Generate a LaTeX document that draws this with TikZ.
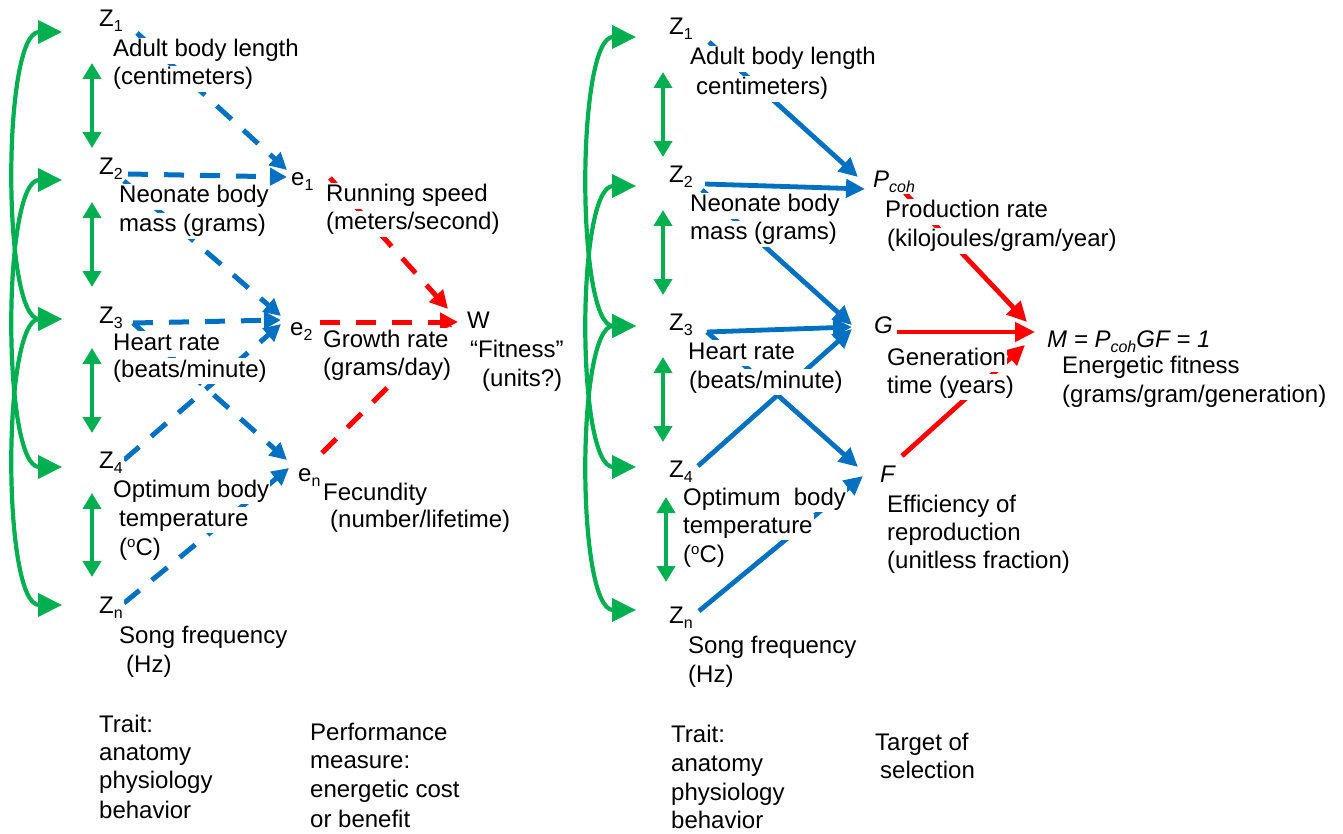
\documentclass[tikz,border=0pt]{standalone}
\usepackage{fontspec}
\setmainfont{Liberation Sans}
\usetikzlibrary{arrows.meta}
\definecolor{cblue}{HTML}{0070C0}
\definecolor{cred}{HTML}{FF0000}
\definecolor{cgreen}{HTML}{00B050}
\newcommand{\lf}{\fontsize{24}{29}\selectfont}
\newcommand{\sbx}[1]{\raisebox{-5pt}{\fontsize{16}{16}\selectfont #1}}
\newcommand{\spx}[1]{\raisebox{8pt}{\fontsize{15}{15}\selectfont #1}}
\begin{document}
\begin{tikzpicture}[x=1pt,y=-1pt,
  lab/.style={font=\lf, anchor=base west, fill=white, inner xsep=1pt, inner ysep=1pt, text height=18pt, text depth=6pt},
  sym/.style={font=\lf, anchor=base west, fill=white, inner sep=1pt},
  bd/.style={draw=cblue, line width=5pt, dash pattern=on 20pt off 16pt, -{Triangle[length=17pt,width=17pt]}},
  bs/.style={draw=cblue, line width=4.8pt, -{Triangle[length=19pt,width=18pt]}},
  rdsh/.style={draw=cred, line width=5pt, dash pattern=on 20pt off 16pt, -{Triangle[length=18pt,width=18pt]}},
  rs/.style={draw=cred, line width=4.8pt, -{Triangle[length=20pt,width=19pt]}},
  gc/.style={draw=cgreen, line width=4.2pt, {Triangle[length=24pt,width=23pt]}-{Triangle[length=24pt,width=23pt]}},
  gv/.style={draw=cgreen, line width=4.2pt, {Triangle[length=16pt,width=18pt]}-{Triangle[length=16pt,width=18pt]}}
]
\useasboundingbox (0,0) rectangle (1343,834);

% ---------- ports (left panel) ----------
\coordinate (pz1) at (137,33);
\coordinate (pz2a) at (128,174);
\coordinate (pz2b) at (124,181);
\coordinate (pz3) at (133,323);
\coordinate (pz4) at (124,460);
\coordinate (pzn) at (124,603);
\coordinate (te1a) at (287,170);
\coordinate (te1b) at (287,177);
\coordinate (te2a) at (281,316);
\coordinate (te2b) at (281,320);
\coordinate (te2c) at (281,324);
\coordinate (tena) at (287,460);
\coordinate (tenb) at (289,468);
\coordinate (pe1) at (330,178);
\coordinate (pe2) at (320,322);
\coordinate (pen) at (322,453);
\coordinate (tw1) at (448,309);
\coordinate (tw2) at (458,322);
\coordinate (tw3) at (450,325);

% ---------- ports (right panel) ----------
\coordinate (qz1) at (709,42);
\coordinate (qz2a) at (705,184);
\coordinate (qz2b) at (702,190);
\coordinate (qz3) at (707,332);
\coordinate (qz4) at (698,466);
\coordinate (qzn) at (699,611);
\coordinate (tp1) at (858,177);
\coordinate (tp2) at (865,189);
\coordinate (tg1) at (852,325);
\coordinate (tg2) at (852,327);
\coordinate (tg3) at (852,329);
\coordinate (tf1) at (858,467);
\coordinate (tf2) at (863,476);
\coordinate (qp) at (905,193);
\coordinate (qg) at (897,332);
\coordinate (qf) at (902,456);
\coordinate (tm1) at (1027,322);
\coordinate (tm2) at (1035,332);
\coordinate (tm3) at (1025,345);

% ---------- green tips ----------
\coordinate (lg1) at (62,32);
\coordinate (lg2) at (62,180);
\coordinate (lg3) at (62,319);
\coordinate (lg4) at (62,467);
\coordinate (lg5) at (62,605);
\coordinate (rg1) at (636,37);
\coordinate (rg2) at (636,186);
\coordinate (rg3) at (636,326);
\coordinate (rg4) at (636,467);
\coordinate (rg5) at (636,610);

% ---------- left connectors ----------
\draw[bd] (pz1) -- (te1a);
\draw[bd] (pz2a) -- (te1b);
\draw[bd] (pz2b) -- (te2a);
\draw[bd] (pz3) -- (te2b);
\draw[bd] (pz4) -- (te2c);
\draw[bd] (pz3) -- (tena);
\draw[bd] (pzn) -- (tenb);
\draw[rdsh] (pe1) -- (tw1);
\draw[rdsh, -] (pen) -- (tw3);
\draw[rdsh] (pe2) -- (tw2);

% ---------- right connectors ----------
\draw[bs] (qz1) -- (tp1);
\draw[bs] (qz2a) -- (tp2);
\draw[bs] (qz2b) -- (tg1);
\draw[bs] (qz3) -- (tg2);
\draw[bs] (qz4) -- (tg3);
\draw[bs] (qz3) -- (tf1);
\draw[bs] (qzn) -- (tf2);
\draw[rs] (qp) -- (tm1);
\draw[rs] (qg) -- (tm2);
\draw[rs] (qf) -- (tm3);

% ---------- green correlations ----------
\draw[gc] (lg1) .. controls +(-60,0) and +(-60,0) .. (lg3);
\draw[gc] (lg2) .. controls +(-60,0) and +(-60,0) .. (lg4);
\draw[gc] (lg3) .. controls +(-60,0) and +(-60,0) .. (lg5);
\draw[gc] (rg1) .. controls +(-60,0) and +(-60,0) .. (rg3);
\draw[gc] (rg2) .. controls +(-60,0) and +(-60,0) .. (rg4);
\draw[gc] (rg3) .. controls +(-60,0) and +(-60,0) .. (rg5);
\coordinate (lv1a) at (92,63);  \coordinate (lv1b) at (92,148);
\coordinate (lv2a) at (92,202); \coordinate (lv2b) at (92,287);
\coordinate (lv3a) at (92,348); \coordinate (lv3b) at (92,433);
\coordinate (lv4a) at (92,493); \coordinate (lv4b) at (92,577);
\coordinate (rv1a) at (663,72);  \coordinate (rv1b) at (663,157);
\coordinate (rv2a) at (663,210); \coordinate (rv2b) at (663,295);
\coordinate (rv3a) at (663,357); \coordinate (rv3b) at (663,442);
\coordinate (rv4a) at (666,497); \coordinate (rv4b) at (666,582);
\draw[gv] (lv1a) -- (lv1b);
\draw[gv] (lv2a) -- (lv2b);
\draw[gv] (lv3a) -- (lv3b);
\draw[gv] (lv4a) -- (lv4b);
\draw[gv] (rv1a) -- (rv1b);
\draw[gv] (rv2a) -- (rv2b);
\draw[gv] (rv3a) -- (rv3b);
\draw[gv] (rv4a) -- (rv4b);

% ---------- left texts ----------
\node[sym] (lz1) at (98,27) {Z\sbx{1}};
\node[sym] (lz2) at (98,175) {Z\sbx{2}};
\node[sym] (lz3) at (98,323) {Z\sbx{3}};
\node[sym] (lz4) at (98,468) {Z\sbx{4}};
\node[sym] (lzn) at (98,613) {Z\sbx{n}};
\node[lab] (l1a) at (112,57) {Adult body length};
\node[lab] (l1b) at (112,85) {(centimeters)};
\node[lab] (l2a) at (118,203) {Neonate body};
\node[lab] (l2b) at (118,232) {mass (grams)};
\node[lab] (l3a) at (112,350) {Heart rate};
\node[lab] (l3b) at (112,377) {(beats/minute)};
\node[lab] (l4a) at (112,497) {Optimum body};
\node[lab] (l4b) at (118,526) {temperature};
\node[lab] (l4c) at (118,555) {(\spx{o}C)};
\node[lab] (l5a) at (118,643) {Song frequency};
\node[lab] (l5b) at (125,672) {(Hz)};
\node[sym] (le1) at (290,186) {e\sbx{1}};
\node[sym] (le2) at (289,335) {e\sbx{2}};
\node[sym] (len) at (297,481) {e\sbx{n}};
\node[sym] (lw) at (466,328) {W};
\node[lab] (m1a) at (325,202) {Running speed};
\node[lab] (m1b) at (325,230) {(meters/second)};
\node[lab] (m2a) at (322,347) {Growth rate};
\node[lab] (m2b) at (322,375) {(grams/day)};
\node[lab] (m3a) at (322,500) {Fecundity};
\node[lab] (m3b) at (329,527) {(number/lifetime)};
\node[lab] (wa) at (469,357) {“Fitness”};
\node[lab] (wb) at (481,386) {(units?)};
\node[lab] (ba1) at (98,732) {Trait:};
\node[lab] (ba2) at (98,760) {anatomy};
\node[lab] (ba3) at (98,788) {physiology};
\node[lab] (ba4) at (98,818) {behavior};
\node[lab] (bb1) at (309,740) {Performance};
\node[lab] (bb2) at (309,768) {measure:};
\node[lab] (bb3) at (309,797) {energetic cost};
\node[lab] (bb4) at (309,827) {or benefit};

% ---------- right texts ----------
\node[sym] (rz1) at (668,35) {Z\sbx{1}};
\node[sym] (rz2) at (668,183) {Z\sbx{2}};
\node[sym] (rz3) at (668,330) {Z\sbx{3}};
\node[sym] (rz4) at (668,477) {Z\sbx{4}};
\node[sym] (rzn) at (668,623) {Z\sbx{n}};
\node[lab] (r1a) at (689,65) {Adult body length};
\node[lab] (r1b) at (695,95) {centimeters)};
\node[lab] (r2a) at (689,212) {Neonate body};
\node[lab] (r2b) at (689,240) {mass (grams)};
\node[lab] (r3a) at (687,359) {Heart rate};
\node[lab] (r3b) at (688,388) {(beats/minute)};
\node[lab] (r4a) at (682,505) {Optimum\ \ body};
\node[lab] (r4b) at (682,533) {temperature};
\node[lab] (r4c) at (682,562) {(\spx{o}C)};
\node[lab] (r5a) at (687,653) {Song frequency};
\node[lab] (r5b) at (687,682) {(Hz)};
\node[sym] (rp) at (872,188) {\itshape P\sbx{coh}};
\node[sym] (rg) at (873,333) {\itshape G};
\node[sym] (rf) at (879,482) {\itshape F};
\node[sym] (rm) at (1046,347) {\itshape M = P\sbx{coh}GF = 1};
\node[lab] (s1a) at (884,218) {Production rate};
\node[lab] (s1b) at (886,247) {(kilojoules/gram/year)};
\node[lab] (s2a) at (886,365) {Generation};
\node[lab] (s2b) at (886,393) {time (years)};
\node[lab] (s3a) at (886,512) {Efficiency of};
\node[lab] (s3b) at (886,540) {reproduction};
\node[lab] (s3c) at (886,568) {(unitless fraction)};
\node[lab] (sma) at (1061,373) {Energetic fitness};
\node[lab] (smb) at (1061,402) {(grams/gram/generation)};
\node[lab] (ca1) at (670,742) {Trait:};
\node[lab] (ca2) at (670,771) {anatomy};
\node[lab] (ca3) at (670,800) {physiology};
\node[lab] (ca4) at (670,828) {behavior};
\node[lab] (cb1) at (874,750) {Target of};
\node[lab] (cb2) at (879,778) {selection};
\end{tikzpicture}
\end{document}
